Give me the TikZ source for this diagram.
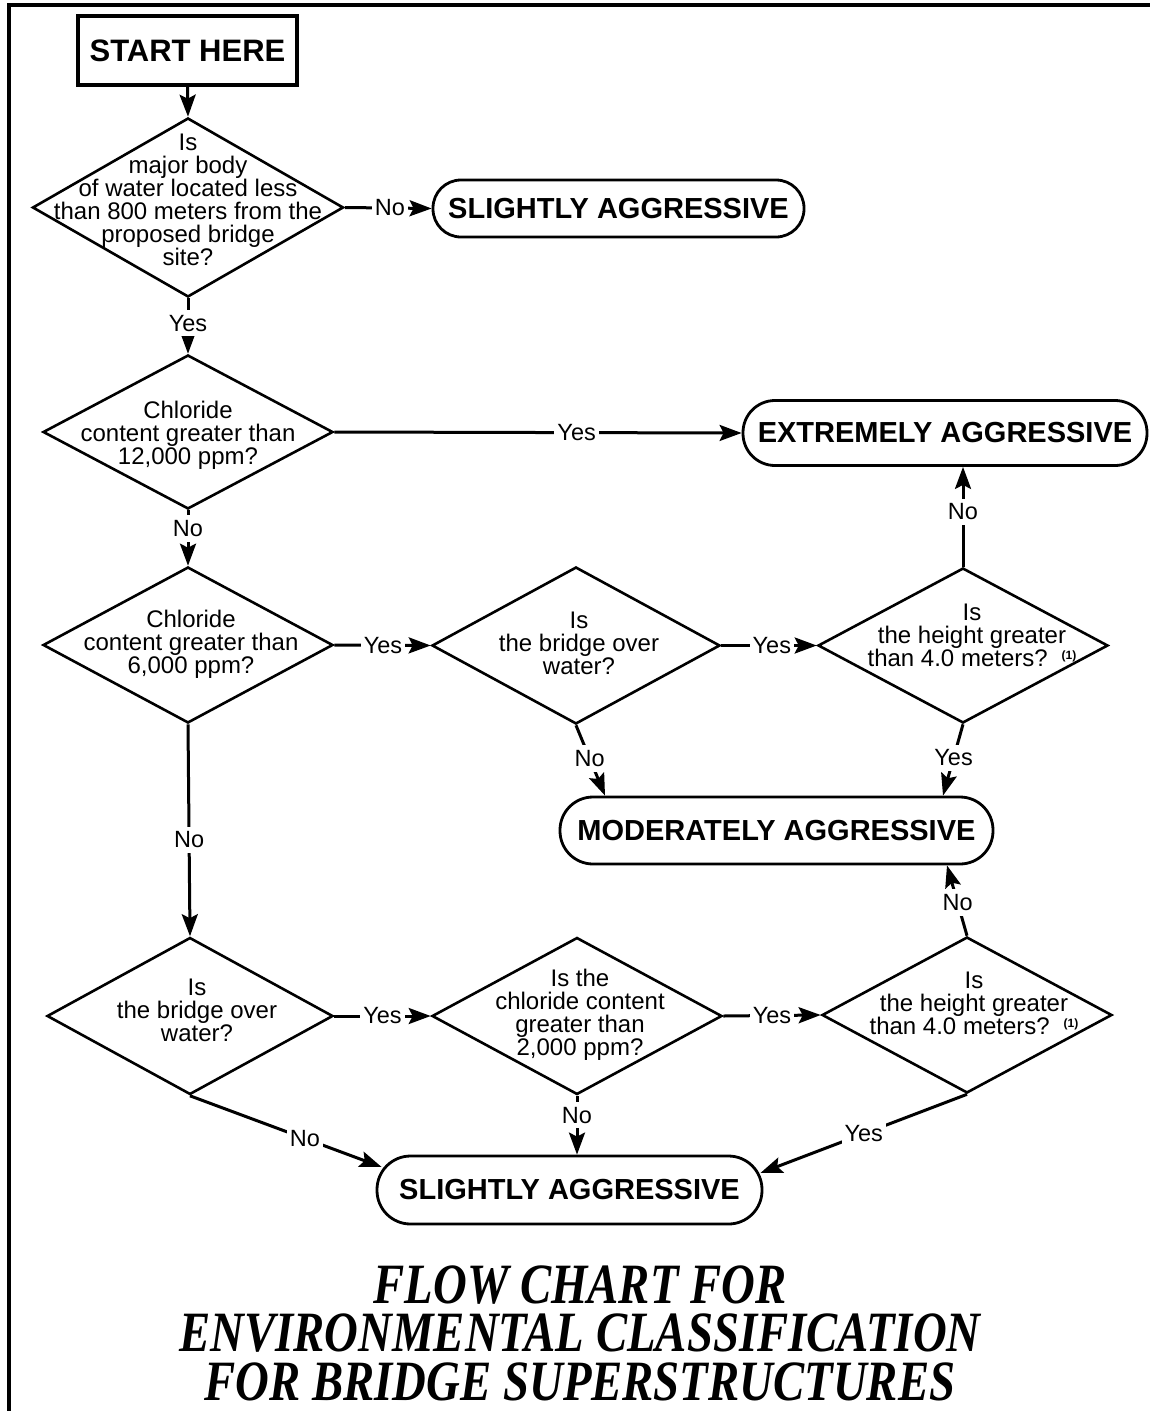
\documentclass[tikz,border=0pt]{standalone}
\usepackage{fontspec}
\usepackage{graphicx}
\setmainfont{Liberation Sans}
\newfontfamily\titlefont{Liberation Serif}
\usetikzlibrary{shapes.geometric,arrows.meta}
\begin{document}
\begin{tikzpicture}[x=1pt,y=-1pt,
  dia/.style={draw, line width=2.6pt, diamond, inner sep=0pt},
  qtext/.style={align=center, font=\fontsize{24}{23}\selectfont, inner sep=0pt},
  term/.style={draw, line width=2.8pt, rectangle, inner sep=0pt, font=\fontsize{29}{30}\selectfont\bfseries},
  conn/.style={line width=3pt, -{Stealth[length=22pt,width=16pt,inset=4pt]}},
  lbl/.style={fill=white, inner xsep=3pt, inner ysep=5pt, font=\fontsize{23.5}{24}\selectfont},
]
\useasboundingbox (0,0) rectangle (1150,1411);
% frame
\draw[line width=3.7pt] (9,1411) -- (9,5) -- (1150,5);

% terminals
\node[draw, line width=4pt, minimum width=219pt, minimum height=69pt, inner sep=0pt,
      font=\fontsize{31}{32}\selectfont\bfseries] (start) at (187.5,50.5) {START HERE};
\node[term, rounded corners=28pt, minimum width=371pt, minimum height=57pt] (sl1) at (618.5,208.5) {SLIGHTLY AGGRESSIVE};
\node[term, rounded corners=32pt, minimum width=404pt, minimum height=65pt] (ext) at (945,433) {EXTREMELY AGGRESSIVE};
\node[term, rounded corners=33pt, minimum width=433pt, minimum height=67pt] (mod) at (776.5,830.5) {MODERATELY AGGRESSIVE};
\node[term, rounded corners=33.5pt, minimum width=385pt, minimum height=68pt] (sl2) at (569.5,1190) {SLIGHTLY AGGRESSIVE};

% decisions
\node[dia, minimum width=311pt, minimum height=179pt] (q1) at (188,207.5) {};
\node[qtext] (q1t) at (188,200) {Is\\major body\\of water located less\\than 800 meters from the\\proposed bridge\\site?};

\node[dia, minimum width=290pt, minimum height=154pt] (q2) at (188,432) {};
\node[qtext] (q2t) at (188,435) {Chloride\\content greater than\\12,000 ppm?};

\node[dia, minimum width=290pt, minimum height=156pt] (q3) at (188,645) {};
\node[qtext] (q3t) at (191,644) {Chloride\\content greater than\\6,000 ppm?};

\node[dia, minimum width=288pt, minimum height=157pt] (q5) at (576,645.5) {};
\node[qtext] (q5t) at (579,643) {Is\\the bridge over\\water?};

\node[dia, minimum width=290pt, minimum height=155pt] (q6) at (963,645.5) {};
\node[qtext] (q6t) at (972,635) {Is\\the height greater\\than 4.0 meters?\hspace{14pt}\raisebox{7pt}{\fontsize{12}{12}\selectfont\bfseries (1)}};

\node[dia, minimum width=286pt, minimum height=157pt] (q4) at (190,1016) {};
\node[qtext] (q4t) at (197,1010.5) {Is\\the bridge over\\water?};

\node[dia, minimum width=290pt, minimum height=157pt] (q7) at (577,1016) {};
\node[qtext] (q7t) at (580,1015) {Is the\\chloride content\\greater than\\2,000 ppm?};

\node[dia, minimum width=290pt, minimum height=156pt] (q8) at (967,1015) {};
\node[qtext] (q8t) at (974,1003) {Is\\the height greater\\than 4.0 meters?\hspace{14pt}\raisebox{7pt}{\fontsize{12}{12}\selectfont\bfseries (1)}};

% title
\node[font=\titlefont\bfseries\itshape\fontsize{57}{48.5}\selectfont, align=center, inner sep=0pt] (title) at (580,1333)
  {\scalebox{0.82}[1]{FLOW CHART FOR}\\\scalebox{0.82}[1]{ENVIRONMENTAL CLASSIFICATION}\\\scalebox{0.82}[1]{FOR BRIDGE SUPERSTRUCTURES}};

% connectors
\draw[conn] (start.south) -- (q1.north);
\draw[conn] (q1.east) -- node[lbl, pos=0.52] {No} (sl1.west);
\draw[conn] (q1.south) -- node[lbl, pos=0.45] {Yes} (q2.north);
\draw[conn] (q2.east) -- node[lbl, pos=0.595] {Yes} (ext.west);
\draw[conn] (q2.south) -- node[lbl, pos=0.33] {No} (q3.north);
\draw[conn] (q3.east) -- node[lbl, pos=0.505] {Yes} (q5.west);
\draw[conn] (q5.east) -- node[lbl, pos=0.53] {Yes} (q6.west);
\draw[conn] (q6.north) -- node[lbl, pos=0.55] {No} ([xshift=18pt]ext.south);
\draw[conn] (q6.south) -- node[lbl, pos=0.47] {Yes} ([xshift=166.5pt]mod.north);
\draw[conn] (q5.south) -- node[lbl, pos=0.47] {No} ([xshift=-171.5pt]mod.north);
\draw[conn] (q3.south) -- node[lbl, pos=0.545] {No} (q4.north);
\draw[conn] (q4.east) -- node[lbl, pos=0.5] {Yes} (q7.west);
\draw[conn] (q7.east) -- node[lbl, pos=0.5] {Yes} (q8.west);
\draw[conn] (q8.north) -- node[lbl, pos=0.47] {No} ([xshift=170.5pt]mod.south);
\draw[conn] (q4.south) -- node[lbl, pos=0.6] {No} ([xshift=6pt,yshift=23pt]sl2.west);
\draw[conn] (q7.south) -- node[lbl, pos=0.33] {No} ([xshift=7.5pt]sl2.north);
\draw[conn] (q8.south) -- node[lbl, pos=0.5] {Yes} ([xshift=-3pt,yshift=17pt]sl2.east);
\end{tikzpicture}
\end{document}
